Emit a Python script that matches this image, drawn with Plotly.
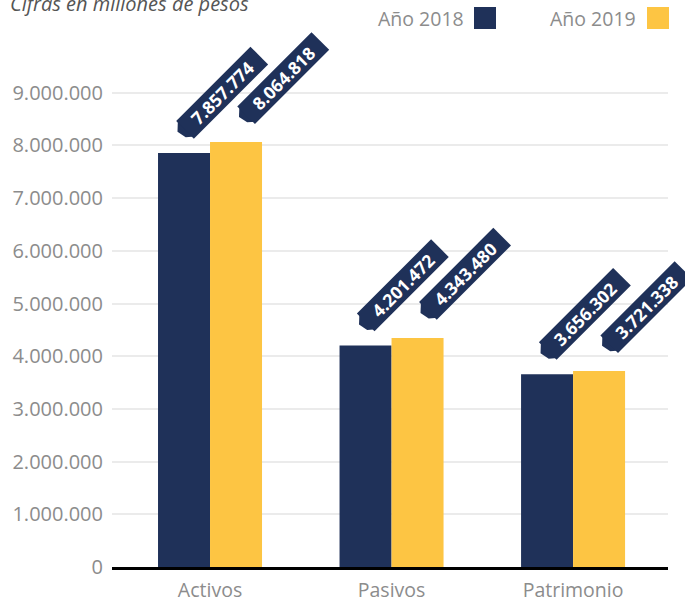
import math
import plotly.graph_objects as go

# ---------------- data ----------------
categories = ["Activos", "Pasivos", "Patrimonio"]
series_names = ["Año 2018", "Año 2019"]
values_2018 = [7857774, 4201472, 3656302]
values_2019 = [8064818, 4343480, 3721338]
y_tick_values = [0, 1000000, 2000000, 3000000, 4000000, 5000000,
                 6000000, 7000000, 8000000, 9000000]
title_text = "Cifras en millones de pesos"

# ---------------- style ----------------
colors = ["#1f3159", "#fdc543"]
tag_color = "#1f3159"
grey = "#8c8c8c"
FONT = "Open Sans"
BARGAP = 0.427

W, H = 685, 603
ML, MR, MT, MB = 112, 17, 40, 36
PW, PH = W - ML - MR, H - MT - MB


def px2paper_x(px):
    return (px - ML) / PW


def px2paper_y(py):
    return (H - MB - py) / PH


def fmt(v):
    return f"{v:,}".replace(",", ".")


fig = go.Figure()
x_pos = list(range(len(categories)))
series = [values_2018, values_2019]
for name, vals, col in zip(series_names, series, colors):
    fig.add_trace(go.Bar(x=x_pos, y=vals, name=name, marker=dict(color=col, line=dict(width=0)),
                         showlegend=False))

# ---------------- value tags ----------------
c = math.sqrt(0.5)
TW, TL = 24, 104            # tag band height / rectangle length (px)
tag_origin = [(4.5, 10), (14, 14)]   # px offset (y up) of tag frame origin from bar top-centre
half = (1 - BARGAP) / 4
shapes = []
annotations = []


def frame(o, u, v):
    return (o[0] + (u - v) * c, o[1] + (u + v) * c)


for s, vals in enumerate(series):
    off = -half if s == 0 else half
    o = tag_origin[s]
    for i, v in enumerate(vals):
        xc = x_pos[i] + off
        # pointer end of the tag
        pts = [frame(o, 9, TW), frame(o, 0, 0.65 * TW), frame(o, 2, 0.25 * TW), frame(o, 9, 0)]
        path = "M " + " L ".join(f"{p[0]:.2f},{p[1]:.2f}" for p in pts) + " Z"
        shapes.append(dict(type="path", xref="x", yref="y", xsizemode="pixel", ysizemode="pixel",
                           xanchor=xc, yanchor=v, path=path, fillcolor=tag_color,
                           line=dict(width=0), layer="above"))
        cx, cy = frame(o, 7 + TL / 2, TW / 2)
        annotations.append(dict(x=xc, y=v, xref="x", yref="y", showarrow=False,
                                text=f"<b>{fmt(v)}</b>", textangle=-45,
                                width=TL, height=TW, bgcolor=tag_color, borderpad=0,
                                xanchor="center", yanchor="middle", xshift=cx, yshift=cy,
                                font=dict(family=FONT, size=17.5, color="white")))

# ---------------- title & legend ----------------
annotations.append(dict(text=title_text, xref="paper", yref="paper",
                        x=px2paper_x(8), y=px2paper_y(4), xanchor="left", yanchor="middle",
                        showarrow=False,
                        font=dict(family=FONT, size=20, color="#555555", style="italic")))
legend_text_right = [466, 638]
legend_square_left = [474, 647]
for name, col, tx, sx in zip(series_names, colors, legend_text_right, legend_square_left):
    annotations.append(dict(text=name, xref="paper", yref="paper",
                            x=px2paper_x(tx), y=px2paper_y(18), xanchor="right", yanchor="middle",
                            showarrow=False, font=dict(family=FONT, size=19.5, color=grey)))
    shapes.append(dict(type="rect", xref="paper", yref="paper",
                       x0=px2paper_x(sx), x1=px2paper_x(sx + 22),
                       y0=px2paper_y(29), y1=px2paper_y(7),
                       fillcolor=col, line=dict(width=0)))

fig.update_layout(
    width=W, height=H,
    margin=dict(l=ML, r=MR, t=MT, b=MB, pad=0, autoexpand=False),
    paper_bgcolor="white", plot_bgcolor="white",
    barmode="group", bargap=BARGAP, bargroupgap=0,
    separators=",.",
    font=dict(family=FONT, size=20, color=grey),
    shapes=shapes, annotations=annotations,
    xaxis=dict(range=[-0.54, 2.523], tickvals=x_pos, ticktext=categories,
               showline=True, linecolor="black", linewidth=3, showgrid=False,
               zeroline=False, ticks="", ticklabelstandoff=4, automargin=False,
               tickfont=dict(family=FONT, size=19.5, color=grey), fixedrange=True),
    yaxis=dict(range=[0, 10000000], tickvals=y_tick_values, tickformat=",d",
               showgrid=True, gridcolor="#ebebeb", gridwidth=2, zeroline=False,
               showline=False, ticks="", ticklabelstandoff=8, automargin=False,
               tickfont=dict(family=FONT, size=20, color=grey), fixedrange=True),
)

fig.write_html("out.html")
